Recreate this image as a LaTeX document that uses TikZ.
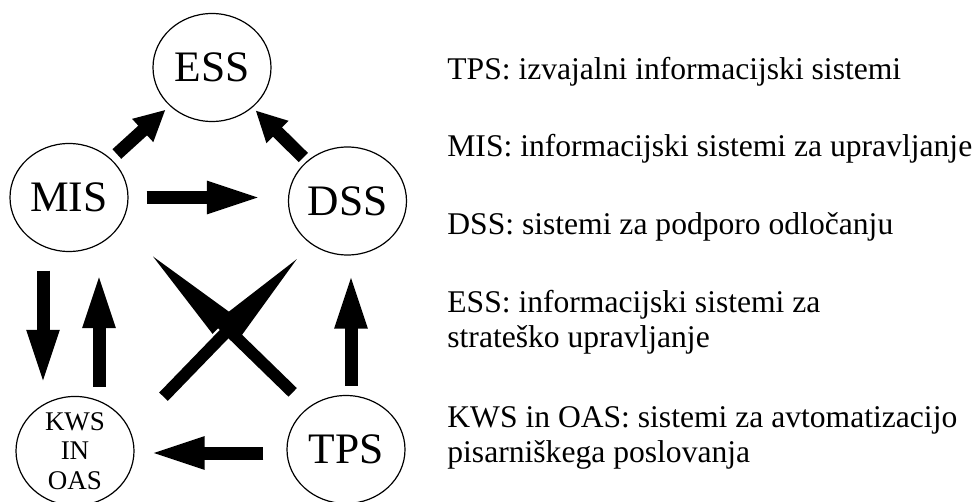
\documentclass[tikz,border=0pt]{standalone}
\usepackage{fontspec}
\setmainfont{Liberation Serif}
\usetikzlibrary{arrows.meta,shapes.geometric}

\begin{document}
\begin{tikzpicture}
    [x=0.5pt,y=-0.5pt,
     sys/.style={shape=ellipse,draw=black,line width=0.6pt,inner sep=0pt,
       minimum width=59pt,minimum height=54pt,font=\fontsize{21.75}{26}\selectfont},
     blk/.style={line width=6.5pt,-{Triangle[length=28pt,width=14.5pt]}},
     stub/.style={line width=6.5pt,-{Triangle[length=15.5pt,width=14.5pt]}},
     spear/.style={line width=6pt,-{Triangle[length=55pt,width=12pt]}},
     legend/.style={anchor=base west,align=left,inner sep=0pt,
       font=\fontsize{15.8}{17.5}\selectfont}]
    \useasboundingbox (0,0) rectangle (980,502);
    \node [sys] (ess) at (212,67.5) {ESS};
    \node [sys] (mis) at (69,197.5) {MIS};
    \node [sys] (dss) at (347.5,201) {DSS};
    \node [sys,align=center,font=\fontsize{13.5}{14.75}\selectfont] (kws) at (75,451)
      {KWS\\IN\\OAS};
    \node [sys] (tps) at (346,449.5) {TPS};
    % arrows between the systems
    \draw [stub,shorten <=3.75pt,shorten >=2.75pt] (mis) -- (ess);
    \draw [stub,shorten <=2.5pt,shorten >=2pt] (dss) -- (ess);
    \draw [blk,shorten <=9pt,shorten >=12.5pt] (mis.east) -- (mis.east -| dss.west);
    \draw [blk,shorten <=11.5pt,shorten >=7pt] ([yshift=-1.75pt]tps.west) -- ([yshift=-1.75pt]tps.west -| kws.east);
    \draw [blk,shorten <=4.5pt,shorten >=8.5pt] ([xshift=2.5pt]tps.north) -- ([xshift=2.5pt]tps.north |- dss.south);
    \draw [blk,shorten <=9.25pt,shorten >=5pt] ([xshift=-13pt]mis.south) -- ([xshift=-13pt]mis.south |- kws.north);
    \draw [blk,shorten <=4.5pt,shorten >=10pt] ([xshift=15pt]mis.south |- kws.north) -- ([xshift=15pt]mis.south);
    \draw [spear,shorten <=10.75pt,shorten >=16pt] (tps.132) -- (mis.-28);
    \draw [spear,shorten <=23.75pt,shorten >=3.7pt] (kws.20) -- (dss.230);
    % legend (base of a two-line entry sits on its last line)
    \node [legend] (ltps) at (447,80) {TPS: izvajalni informacijski sistemi};
    \node [legend] (lmis) at (447,157) {MIS: informacijski sistemi za upravljanje};
    \node [legend] (ldss) at (447,235) {DSS: sistemi za podporo odločanju};
    \node [legend] (less) at (447,348) {ESS: informacijski sistemi za\\strateško upravljanje};
    \node [legend] (lkws) at (447,462) {KWS in OAS: sistemi za avtomatizacijo\\pisarniškega poslovanja};
\end{tikzpicture}
\end{document}
